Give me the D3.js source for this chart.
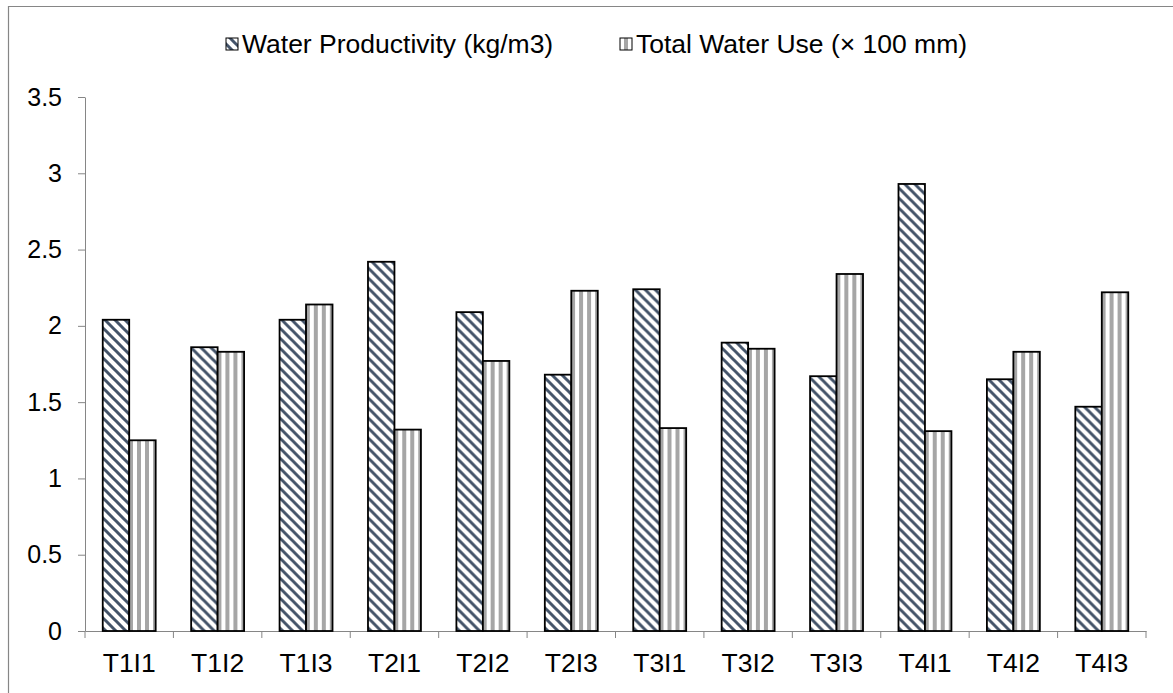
<!DOCTYPE html>
<html>
<head>
<meta charset="utf-8">
<script src="https://cdn.jsdelivr.net/npm/d3@7"></script>
<style>
  body { margin: 0; background: #fff; }
  svg { font-family: "Liberation Sans", Arial, sans-serif; }
</style>
</head>
<body>
<div id="chart"></div>
<script>
// --------------- Data ---------------
const categories = ["T1I1", "T1I2", "T1I3", "T2I1", "T2I2", "T2I3", "T3I1", "T3I2", "T3I3", "T4I1", "T4I2", "T4I3"];
const waterProductivity = [2.04, 1.86, 2.04, 2.42, 2.09, 1.68, 2.24, 1.89, 1.67, 2.93, 1.65, 1.47];
const totalWaterUse = [1.25, 1.83, 2.14, 1.32, 1.77, 2.23, 1.33, 1.85, 2.34, 1.31, 1.83, 2.22];
const seriesNames = ["Water Productivity (kg/m3)", "Total Water Use (\u00d7 100 mm)"];
const yTicks = [0, 0.5, 1, 1.5, 2, 2.5, 3, 3.5];

// --------------- Constants ---------------
const WIDTH = 1173;
const HEIGHT = 693;
const PLOT = { left: 85, right: 1146, top: 97, bottom: 631 };
const AXIS_COLOR = "#868686";
const HATCH_COLOR = "#44546A";
const STRIPE_COLOR = "#A6A6A6";
const Y_FONT = "25px";
const X_FONT = "26.5px";

const svg = d3.select("#chart")
  .append("svg")
  .attr("width", WIDTH)
  .attr("height", HEIGHT);

// Patterns
const defs = svg.append("defs");
const hatch = defs.append("pattern")
  .attr("id", "hatch")
  .attr("patternUnits", "userSpaceOnUse")
  .attr("width", 10)
  .attr("height", 10);
hatch.append("rect").attr("width", 10).attr("height", 10).attr("fill", "#fff");
hatch.append("path")
  .attr("d", "M-2,-2 L12,12 M-2,8 L2,12 M8,-2 L12,2")
  .attr("stroke", HATCH_COLOR)
  .attr("stroke-width", 3);

const stripes = defs.append("pattern")
  .attr("id", "stripes")
  .attr("patternUnits", "userSpaceOnUse")
  .attr("width", 8)
  .attr("height", 8);
stripes.append("rect").attr("width", 8).attr("height", 8).attr("fill", "#fff");
stripes.append("rect").attr("x", 4).attr("width", 4).attr("height", 8).attr("fill", STRIPE_COLOR);

const fills = ["url(#hatch)", "url(#stripes)"];

// Outer border (only left and top edges fall inside the picture)
svg.append("path")
  .attr("d", `M8.5,${HEIGHT} V6.5 H${WIDTH}`)
  .attr("fill", "none")
  .attr("stroke", AXIS_COLOR)
  .attr("stroke-width", 1.2);

// Scales
const x = d3.scaleBand().domain(categories).range([PLOT.left, PLOT.right]);
const x1 = d3.scaleBand().domain([0, 1]).range([0, x.bandwidth()]).paddingInner(0).paddingOuter(0.67);
const y = d3.scaleLinear().domain([0, 3.5]).range([PLOT.bottom, PLOT.top]);

// Y axis
const yAxis = svg.append("g")
  .attr("transform", `translate(${PLOT.left},0)`)
  .call(d3.axisLeft(y).tickValues(yTicks).tickFormat(d3.format("")).tickSize(7).tickSizeOuter(0));
yAxis.select(".domain").attr("stroke", AXIS_COLOR);
yAxis.selectAll(".tick line").attr("stroke", AXIS_COLOR);
yAxis.selectAll(".tick text")
  .attr("x", -23)
  .attr("fill", "#000")
  .style("font-size", Y_FONT);

// X axis
const xAxis = svg.append("g")
  .attr("transform", `translate(0,${PLOT.bottom})`)
  .call(d3.axisBottom(x).tickSize(0).tickSizeOuter(0));
xAxis.select(".domain").attr("stroke", AXIS_COLOR);
xAxis.selectAll(".tick text")
  .attr("y", 41)
  .attr("dy", 0)
  .attr("fill", "#000")
  .style("font-size", X_FONT);
// category boundary ticks
xAxis.append("g")
  .selectAll("line")
  .data(categories.concat(["end"]))
  .join("line")
  .attr("x1", (d, i) => i < categories.length ? x(d) : PLOT.right)
  .attr("x2", (d, i) => i < categories.length ? x(d) : PLOT.right)
  .attr("y1", 0)
  .attr("y2", 7)
  .attr("stroke", AXIS_COLOR);

// Bars
const rows = categories.map((c, i) => ({ cat: c, vals: [waterProductivity[i], totalWaterUse[i]] }));
svg.append("g")
  .selectAll("g")
  .data(rows)
  .join("g")
  .attr("transform", d => `translate(${x(d.cat)},0)`)
  .selectAll("rect")
  .data(d => d.vals.map((v, k) => ({ v, k })))
  .join("rect")
  .attr("x", d => x1(d.k))
  .attr("y", d => y(d.v))
  .attr("width", x1.bandwidth())
  .attr("height", d => y(0) - y(d.v))
  .attr("fill", d => fills[d.k])
  .attr("stroke", "#000")
  .attr("stroke-width", 1.8);

// Legend
const legendItems = [
  { name: seriesNames[0], fill: fills[0], x: 226 },
  { name: seriesNames[1], fill: fills[1], x: 620 }
];
const legend = svg.append("g").attr("transform", "translate(0,44)");
const li = legend.selectAll("g").data(legendItems).join("g")
  .attr("transform", d => `translate(${d.x},0)`);
li.append("rect")
  .attr("x", 0).attr("y", -6)
  .attr("width", 12).attr("height", 12)
  .attr("fill", d => d.fill)
  .attr("stroke", "#000")
  .attr("stroke-width", 1);
li.append("text")
  .attr("x", 16)
  .attr("y", 9)
  .style("font-size", X_FONT)
  .attr("fill", "#000")
  .text(d => d.name);
</script>
</body>
</html>
